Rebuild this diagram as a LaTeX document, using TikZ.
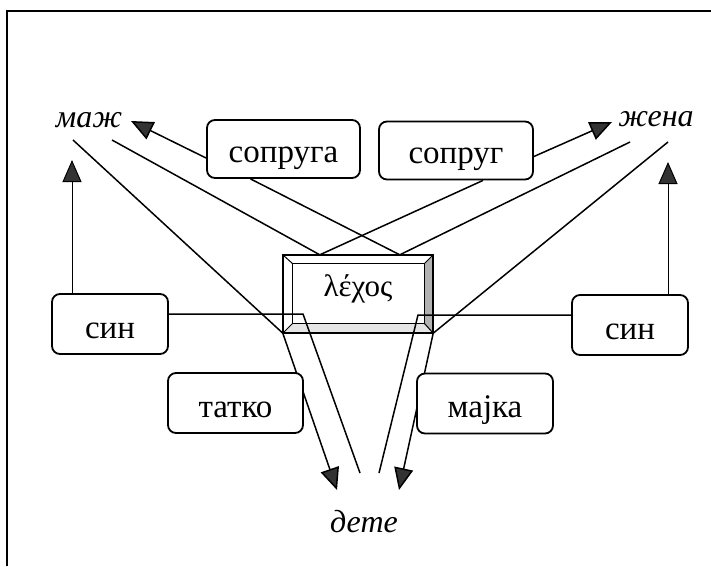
\documentclass[tikz,border=0pt]{standalone}
\usepackage{fontspec}
\setmainfont{Liberation Serif}
\newfontfamily\mkfont[Script=Cyrillic,Language=Macedonian]{Liberation Serif}
\usetikzlibrary{arrows.meta,calc}
\pgfdeclarelayer{bottom}
\pgfdeclarelayer{background}
\pgfsetlayers{bottom,background,main}
\begin{document}
\begin{tikzpicture}[x=1pt,y=-1pt,
  lbl/.style={draw,line width=1.8pt,rounded corners=8pt,fill=white,
    inner xsep=0pt,inner ysep=0pt,text height=44pt,text depth=16pt,
    font=\fontsize{33}{33}\selectfont},
  lblup/.style={lbl,text height=42pt},
  word/.style={inner sep=0pt,anchor=base,font=\mkfont\itshape\fontsize{32}{32}\selectfont},
  ln/.style={line width=1.5pt},
  thinln/.style={line width=1pt},
  arr/.style={-{Triangle[length=22pt,width=19pt,fill=black!80]}},
]
\useasboundingbox (0,0) rectangle (711,566);
\draw[line width=2pt] (7,566) -- (7,11) -- (711,11);

% words
\node[word] (maz) at (89,127) {маж};
\node[word] (zena) at (656,126) {жена};
\node[word] (dete) at (364,532) {дете};

% boxes
\node[lblup,minimum width=153pt] (sopruga) at (283.5,149) {сопруга};
\node[lblup,minimum width=154pt] (soprug) at (456,150.5) {сопруг};
\node[lbl,minimum width=116pt] (sinL) at (110,324) {син};
\node[lbl,minimum width=116pt] (sinR) at (630,325) {син};
\node[lbl,minimum width=135pt] (tatko) at (235.5,403) {татко};
\node[lbl,minimum width=136pt] (majka) at (485,403.5) {мајка};

% lexos bevel box
\node[inner sep=0pt,minimum width=150pt,text height=41pt,text depth=37pt,
  font=\fontsize{31}{31}\selectfont] (lexos) at (358,294) {λέχος};
\begin{pgfonlayer}{bottom}
  \coordinate (oNW) at (lexos.north west);
  \coordinate (oSE) at (lexos.south east);
  \coordinate (oNE) at (lexos.north east);
  \coordinate (oSW) at (lexos.south west);
  \coordinate (iNW) at ($(oNW)+(10,9)$);
  \coordinate (iNE) at ($(oNE)+(-9,9)$);
  \coordinate (iSE) at ($(oSE)+(-9,-10)$);
  \coordinate (iSW) at ($(oSW)+(10,-10)$);
  \fill[black!30] (oNE) -- (oSE) -- (iSE) -- (iNE) -- cycle;
  \fill[black!10] (oSW) -- (oSE) -- (iSE) -- (iSW) -- cycle;
  \draw[line width=1.8pt] (oNW) rectangle (oSE);
  \draw[line width=1.3pt] (iNW) rectangle (iSE);
  \draw[line width=1pt] (oNW) -- (iNW) (oNE) -- (iNE) (oSE) -- (iSE) (oSW) -- (iSW);
\end{pgfonlayer}

% named points
\coordinate (mazA) at (73,140);
\coordinate (mazB) at (112,140);
\coordinate (zenaA) at (630,142);
\coordinate (zenaB) at (668,142);
\coordinate (vL) at ($(oNW)+(37,0)$);
\coordinate (vR) at ($(oNW)+(117,0)$);
\coordinate (tipMaz) at (131,121);
\coordinate (tipZena) at (612,122);
\coordinate (tipSinL) at (72,160);
\coordinate (tipSinR) at (668,162);
\coordinate (cornerL) at (303,314);
\coordinate (cornerR) at (418,315);
\coordinate (endL) at (360,473);
\coordinate (endR) at (379,473);
\coordinate (tipDeteL) at (337,490);
\coordinate (tipDeteR) at (399,490);

\begin{pgfonlayer}{background}
  \draw[ln] (mazB) -- (vL) -- ([xshift=27pt]soprug.south);
  \draw[ln] ([xshift=-33pt]sopruga.south) -- (vR) -- (zenaA);
  \draw[ln,arr] ([yshift=-9pt]sopruga.west) -- (tipMaz);
  \draw[ln,arr] ([yshift=-6pt]soprug.east) -- (tipZena);
  \draw[thinln,arr] ([xshift=-38pt]sinL.north) -- (tipSinL);
  \draw[thinln,arr] ([xshift=38pt]sinR.north) -- (tipSinR);
  \draw[ln] ([yshift=10pt]sinL.east) -- (cornerL) -- (endL);
  \draw[ln] ([yshift=10pt]sinR.west) -- (cornerR) -- (endR);
  \draw[ln,arr] (mazA) -- (oSW) -- (tipDeteL);
  \draw[ln,arr] (zenaB) -- (oSE) -- (tipDeteR);
\end{pgfonlayer}
\end{tikzpicture}
\end{document}
